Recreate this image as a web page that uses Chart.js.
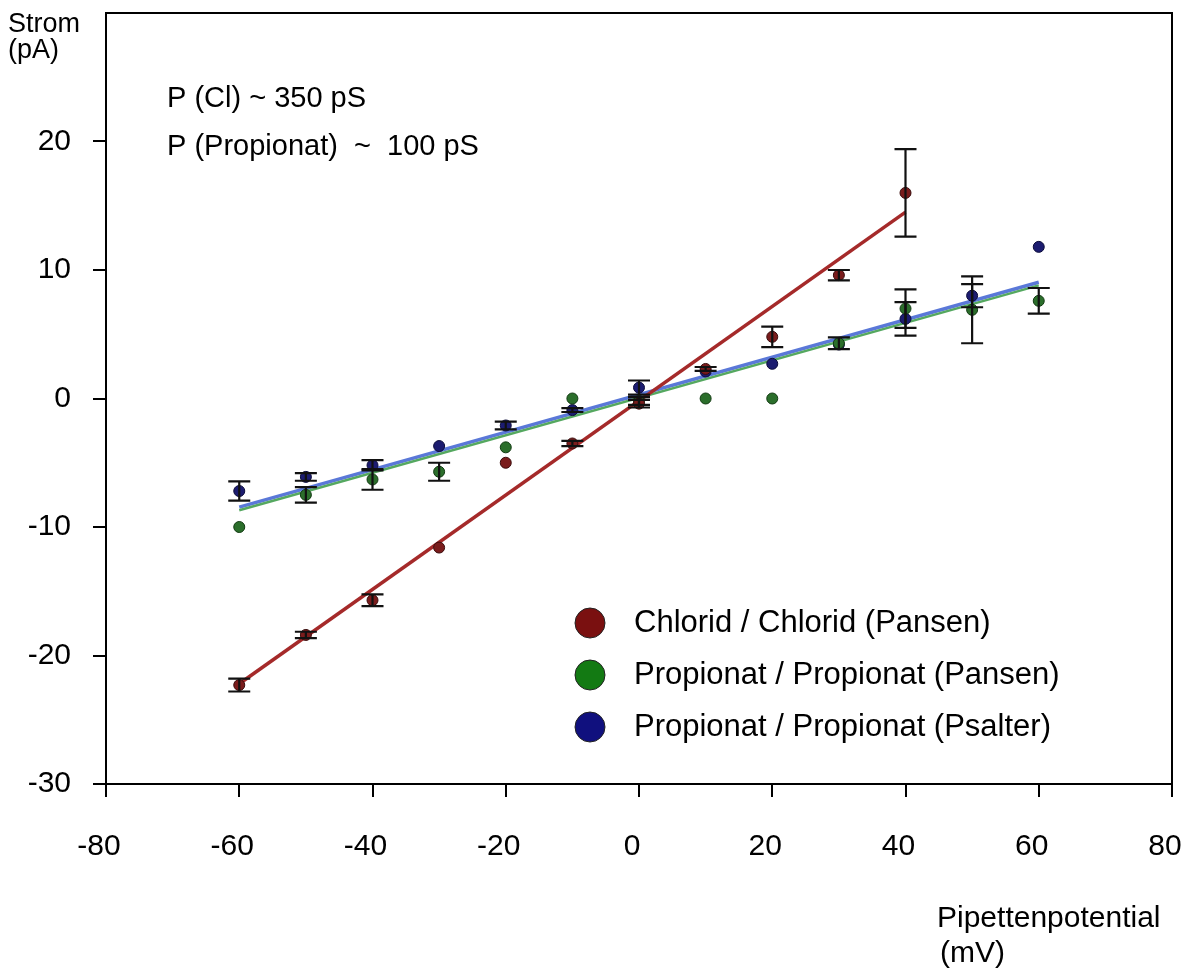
<!DOCTYPE html>
<html lang="de">
<head>
<meta charset="UTF-8">
<title>Strom / Pipettenpotential</title>
<script src="https://cdn.jsdelivr.net/npm/chart.js"></script>
<style>
    body {
        margin: 0;
        background: #fff;
    }
    #wrap {
        width: 1184px;
        height: 972px;
    }
</style>
</head>
<body>
<div id="wrap">
    <canvas id="ivChart" width="1184" height="972"></canvas>
</div>
<script>
    // Messwerte (Pipettenpotential in mV, Strom in pA)
    const spannungCl = [-60, -50, -40, -30, -20, -10, 0, 10, 20, 30, 40];
    const stromCl = [-22.3, -18.4, -15.7, -11.6, -5.0, -3.5, -0.4, 2.3, 4.8, 9.6, 16.0];
    const fehlerCl = [0.5, 0.25, 0.45, 0, 0, 0.2, 0.3, 0.15, 0.8, 0.4, 3.4];

    const spannungProp = [-60, -50, -40, -30, -20, -10, 0, 10, 20, 30, 40, 50, 60];
    const stromPansen = [-10.0, -7.5, -6.3, -5.7, -3.8, 0.0, -0.2, 0.0, 0.0, 4.3, 7.0, 6.9, 7.6];
    const fehlerPansen = [0, 0.6, 0.8, 0.7, 0, 0, 0.3, 0, 0, 0.45, 1.5, 2.6, 1.0];
    const stromPsalter = [-7.2, -6.1, -5.2, -3.7, -2.1, -0.9, 0.85, 2.1, 2.7, 4.2, 6.2, 8.0, 11.8];
    const fehlerPsalter = [0.75, 0.3, 0.4, 0, 0.3, 0.15, 0.55, 0, 0, 0, 1.3, 0.9, 0];

    // Regressionsgeraden (Endpunkte)
    const fitClX = [-60, 40];
    const fitClY = [-22.2, 14.5];
    const fitPropX = [-60, 60];
    const fitPansenY = [-8.7, 8.8];
    const fitPsalterY = [-8.45, 9.05];

    const xTicks = [-80, -60, -40, -20, 0, 20, 40, 60, 80];
    const yTicks = [-30, -20, -10, 0, 10, 20, 30];

    const legendNamen = [
        'Chlorid / Chlorid (Pansen)',
        'Propionat / Propionat (Pansen)',
        'Propionat / Propionat (Psalter)'
    ];
    const hinweise = ['P (Cl) ~ 350 pS', 'P (Propionat)  ~  100 pS'];

    const rot = '#7a1c1c';
    const gruen = '#2b6e2b';
    const blau = '#1c1c70';
    const FONT = '"Liberation Sans", Arial, sans-serif';

    function punkte(xs, ys) {
        return xs.map((x, i) => ({ x: x, y: ys[i] }));
    }

    const fehlerbalken = {
        id: 'fehlerbalken',
        afterDatasetsDraw(chart) {
            const ctx = chart.ctx;
            const xs = chart.scales.x;
            const ys = chart.scales.y;
            const reihen = [
                [spannungCl, stromCl, fehlerCl],
                [spannungProp, stromPansen, fehlerPansen],
                [spannungProp, stromPsalter, fehlerPsalter]
            ];
            ctx.save();
            ctx.strokeStyle = '#111';
            ctx.lineWidth = 2.2;
            reihen.forEach(r => {
                r[0].forEach((v, i) => {
                    const e = r[2][i];
                    if (!e) return;
                    const px = xs.getPixelForValue(v);
                    const top = ys.getPixelForValue(r[1][i] + e);
                    const bot = ys.getPixelForValue(r[1][i] - e);
                    ctx.beginPath();
                    ctx.moveTo(px, top);
                    ctx.lineTo(px, bot);
                    ctx.moveTo(px - 11, top);
                    ctx.lineTo(px + 11, top);
                    ctx.moveTo(px - 11, bot);
                    ctx.lineTo(px + 11, bot);
                    ctx.stroke();
                });
            });
            ctx.restore();
        }
    };

    const beschriftung = {
        id: 'beschriftung',
        afterDraw(chart) {
            const ctx = chart.ctx;
            const a = chart.chartArea;
            ctx.save();
            // Rahmen oben und rechts
            ctx.strokeStyle = '#000';
            ctx.lineWidth = 2;
            ctx.beginPath();
            ctx.moveTo(a.left, a.top);
            ctx.lineTo(a.right, a.top);
            ctx.lineTo(a.right, a.bottom);
            ctx.stroke();

            ctx.fillStyle = '#000';
            ctx.textAlign = 'left';
            ctx.textBaseline = 'alphabetic';
            ctx.font = '27px ' + FONT;
            ctx.fillText('Strom', 8, 32);
            ctx.fillText('(pA)', 8, 58);

            ctx.font = '30px ' + FONT;
            ctx.fillText('Pipettenpotential', 937, 927);
            ctx.fillText('(mV)', 940, 962);

            ctx.font = '29px ' + FONT;
            ctx.fillText(hinweise[0], 167, 107);
            ctx.fillText(hinweise[1], 167, 155);

            // Legende
            const farben = ['#7a1010', '#137a13', '#10107e'];
            ctx.font = '31px ' + FONT;
            ctx.textBaseline = 'middle';
            legendNamen.forEach((n, i) => {
                const y = 623 + i * 52;
                ctx.beginPath();
                ctx.arc(590, y, 15, 0, Math.PI * 2);
                ctx.fillStyle = farben[i];
                ctx.fill();
                ctx.lineWidth = 1;
                ctx.strokeStyle = '#222';
                ctx.stroke();
                ctx.fillStyle = '#000';
                ctx.fillText(n, 634, y);
            });
            ctx.restore();
        }
    };

    new Chart(document.getElementById('ivChart'), {
        type: 'scatter',
        data: {
            datasets: [
                {
                    label: legendNamen[0],
                    data: punkte(spannungCl, stromCl),
                    backgroundColor: rot,
                    borderColor: '#3a0c0c',
                    borderWidth: 1,
                    pointRadius: 5.5
                },
                {
                    label: legendNamen[1],
                    data: punkte(spannungProp, stromPansen),
                    backgroundColor: gruen,
                    borderColor: '#123a12',
                    borderWidth: 1,
                    pointRadius: 5.5
                },
                {
                    label: legendNamen[2],
                    data: punkte(spannungProp, stromPsalter),
                    backgroundColor: blau,
                    borderColor: '#0c0c3a',
                    borderWidth: 1,
                    pointRadius: 5.5
                },
                {
                    label: 'Fit Cl',
                    data: punkte(fitClX, fitClY),
                    showLine: true,
                    borderColor: '#a52a2a',
                    borderWidth: 3.5,
                    pointRadius: 0
                },
                {
                    label: 'Fit Pansen',
                    data: punkte(fitPropX, fitPansenY),
                    showLine: true,
                    borderColor: '#55a860',
                    borderWidth: 2.5,
                    pointRadius: 0
                },
                {
                    label: 'Fit Psalter',
                    data: punkte(fitPropX, fitPsalterY),
                    showLine: true,
                    borderColor: '#5a78d8',
                    borderWidth: 3.5,
                    pointRadius: 0
                }
            ]
        },
        options: {
            responsive: false,
            animation: false,
            layout: {
                padding: { top: 13, right: 12, left: 0, bottom: 0 }
            },
            plugins: {
                legend: { display: false },
                tooltip: { enabled: false }
            },
            scales: {
                x: {
                    type: 'linear',
                    min: -80,
                    max: 80,
                    afterBuildTicks: s => { s.ticks = xTicks.map(v => ({ value: v })); },
                    afterFit: s => { s.height = 188; s.paddingLeft = 0; s.paddingRight = 0; },
                    ticks: {
                        color: '#000',
                        font: { family: FONT, size: 30 },
                        padding: 32,
                        labelOffset: -7,
                        maxRotation: 0
                    },
                    grid: {
                        drawOnChartArea: false,
                        tickLength: 13,
                        color: '#000',
                        lineWidth: 2
                    },
                    border: { color: '#000', width: 2 }
                },
                y: {
                    type: 'linear',
                    min: -30,
                    max: 30,
                    afterBuildTicks: s => { s.ticks = yTicks.map(v => ({ value: v })); },
                    afterFit: s => { s.width = 106; s.paddingTop = 0; s.paddingBottom = 0; },
                    ticks: {
                        color: '#000',
                        font: { family: FONT, size: 30 },
                        padding: 22,
                        callback: v => (v === 30 ? '' : v)
                    },
                    grid: {
                        drawOnChartArea: false,
                        tickLength: 13,
                        color: ctx => (ctx.tick && ctx.tick.value === 30 ? 'rgba(0,0,0,0)' : '#000'),
                        lineWidth: 2
                    },
                    border: { color: '#000', width: 2 }
                }
            }
        },
        plugins: [fehlerbalken, beschriftung]
    });
</script>
</body>
</html>
